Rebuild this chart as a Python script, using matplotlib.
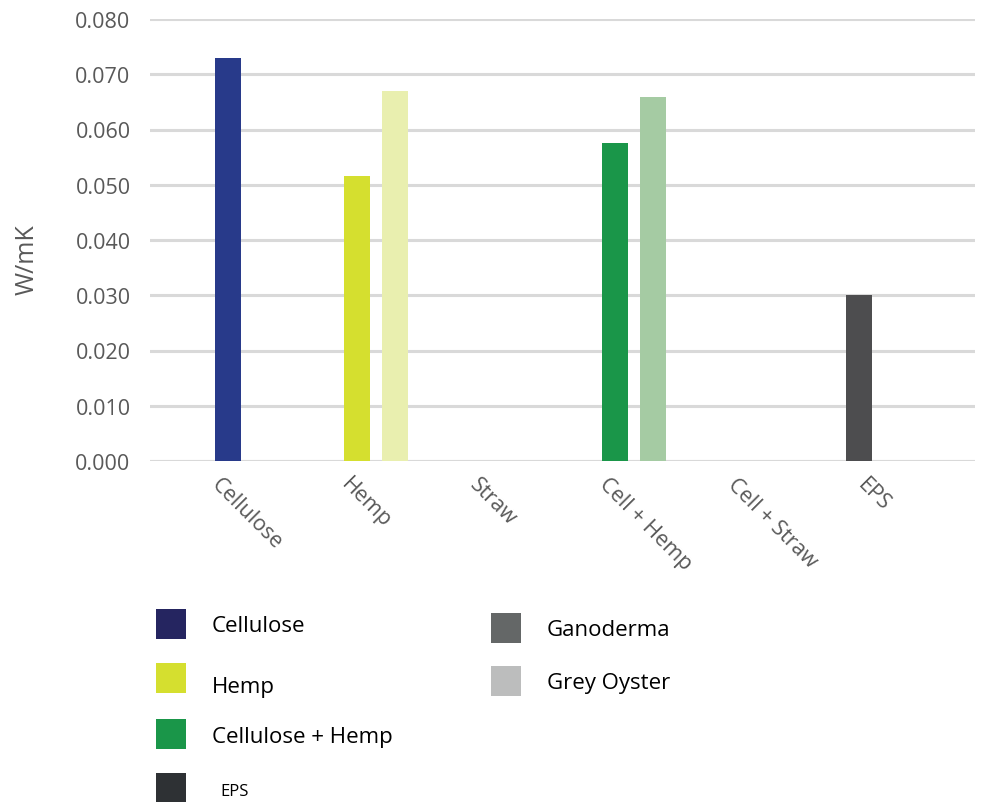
import matplotlib.pyplot as plt
from matplotlib.patches import Rectangle
import numpy as np

plt.rcParams['font.family'] = ['Open Sans', 'DejaVu Sans']

categories = ['Cellulose', 'Hemp', 'Straw', 'Cell + Hemp', 'Cell + Straw', 'EPS']
# first bar of each group (main material / ganoderma)
vals_a = [0.0730, 0.0516, 0.0, 0.0576, 0.0, 0.0]
# second bar of each group (grey oyster)
vals_b = [0.0, 0.0670, 0.0, 0.0659, 0.0, 0.0]
# EPS sits on its own a bit to the left
vals_c = [0.0, 0.0, 0.0, 0.0, 0.0, 0.0300]
colors_a = ['#283A8A', '#D5DF2F', '#FFFFFF', '#1A9649', '#FFFFFF', '#FFFFFF']
colors_b = ['#FFFFFF', '#E9EFAF', '#FFFFFF', '#A5CBA3', '#FFFFFF', '#FFFFFF']
color_c = '#4D4D4F'

legend_left = ['Cellulose', 'Hemp', 'Cellulose + Hemp', 'EPS']
legend_left_colors = ['#252560', '#D5DF2F', '#1A9649', '#2E3134']
legend_right = ['Ganoderma', 'Grey Oyster']
legend_right_colors = ['#646767', '#BCBDBD']

fig = plt.figure(figsize=(9.86, 8.03), dpi=100)
ax = fig.add_axes([150/986, 1-462/803, 825/986, 442/803])

x = np.arange(len(categories))
off = 19/129
w = 26/129
for i in range(len(categories)):
    if vals_a[i] > 0:
        ax.bar(x[i]-off, vals_a[i], w, color=colors_a[i], zorder=3)
    if vals_b[i] > 0:
        ax.bar(x[i]+off, vals_b[i], w, color=colors_b[i], zorder=3)
    if vals_c[i] > 0:
        ax.bar(x[i]-off-14/129, vals_c[i], w, color=color_c, zorder=3)

ax.set_xlim(-0.75, 5.64)
ax.set_ylim(0, 0.080)
ax.set_yticks(np.arange(0, 0.0801, 0.01))
ax.set_yticklabels(['%.3f' % v for v in np.arange(0, 0.0801, 0.01)], fontsize=15.5, color='#595959')
ax.yaxis.grid(True, color='#D9D9D9', linewidth=2.2, zorder=0)
ax.set_axisbelow(True)
for s in ax.spines.values():
    s.set_visible(False)
ax.axhline(0, color='#D9D9D9', linewidth=2.2, zorder=1)
ax.tick_params(length=0, pad=14)
ax.tick_params(axis='x', pad=9)

ax.set_xticks(x - 0.19)
ax.set_xticklabels(categories, rotation=-45, ha='left', va='top', rotation_mode='anchor',
                   fontsize=15.5, color='#595959')
ax.set_ylabel('W/mK', fontsize=18, color='#595959')
ax.yaxis.set_label_coords(-110/825, (462-260)/442)

# legend, drawn by hand
ys_left = [625, 679, 735, 789]
text_y_left = [627, 688, 738, 792]
for i in range(len(legend_left)):
    fig.patches.append(Rectangle((156/986, 1-(ys_left[i]+15)/803), 30/986, 30/803,
                                 facecolor=legend_left_colors[i], transform=fig.transFigure))
    fs = 12 if legend_left[i] == 'EPS' else 16
    tx = 220 if legend_left[i] == 'EPS' else 212
    fig.text(tx/986, 1-text_y_left[i]/803, legend_left[i], fontsize=fs, va='center', color='black')

ys_right = [629, 682]
text_y_right = [630, 684]
for i in range(len(legend_right)):
    fig.patches.append(Rectangle((491/986, 1-(ys_right[i]+15)/803), 30/986, 30/803,
                                 facecolor=legend_right_colors[i], transform=fig.transFigure))
    fig.text(547/986, 1-text_y_right[i]/803, legend_right[i], fontsize=16, va='center', color='black')

fig.savefig('out.png', dpi=100)
